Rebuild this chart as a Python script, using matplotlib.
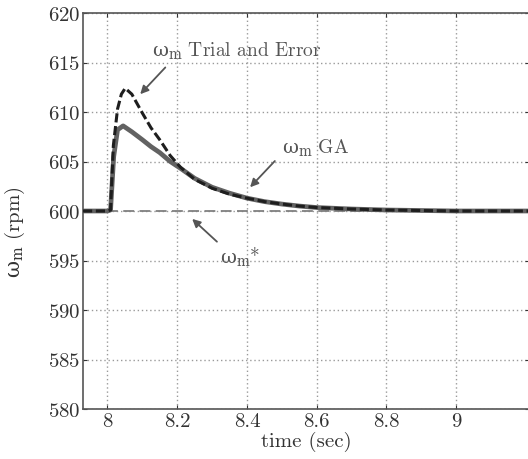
import matplotlib
matplotlib.use("Agg")
import matplotlib.pyplot as plt

plt.rcParams['font.family'] = ['cmr10', 'DejaVu Serif']
plt.rcParams['mathtext.fontset'] = 'dejavuserif'
plt.rcParams['axes.formatter.use_mathtext'] = True

# Trial and Error response
t_trial = [7.93, 8.0, 8.009, 8.017, 8.029, 8.04, 8.051, 8.07, 8.1, 8.125, 8.15, 8.18,
           8.21, 8.25, 8.3, 8.35, 8.4, 8.45, 8.5, 8.55, 8.6, 8.7, 8.8, 8.9, 9.0, 9.1, 9.21]
w_trial = [600.0, 600.0, 600.1, 606.6, 610.3, 611.8, 612.4, 611.8, 609.9, 608.4, 607.2, 605.6,
           604.4, 603.2, 602.3, 601.7, 601.3, 600.95, 600.7, 600.5, 600.35, 600.2, 600.1, 600.05, 600.0, 600.0, 600.0]

# GA response
t_ga = [7.93, 8.0, 8.009, 8.018, 8.029, 8.045, 8.07, 8.1, 8.125, 8.15, 8.18, 8.21,
        8.25, 8.3, 8.35, 8.4, 8.45, 8.5, 8.55, 8.6, 8.7, 8.8, 8.9, 9.0, 9.1, 9.21]
w_ga = [600.0, 600.0, 600.1, 605.5, 608.2, 608.6, 608.0, 607.2, 606.5, 605.9, 605.0, 604.3,
        603.3, 602.4, 601.8, 601.3, 600.95, 600.7, 600.5, 600.35, 600.2, 600.1, 600.05, 600.0, 600.0, 600.0]

# Reference speed
t_ref = [8.0, 9.21]
w_ref = [600.0, 600.0]

xticks = [8, 8.2, 8.4, 8.6, 8.8, 9]
xticklabels = ['8', '8.2', '8.4', '8.6', '8.8', '9']
yticks = [580, 585, 590, 595, 600, 605, 610, 615, 620]

fig = plt.figure(figsize=(5.28, 4.6), dpi=100)
ax = fig.add_axes([83/528, 50/460, 446/528, 396/460])

ax.plot(t_ga, w_ga, color='#626262', lw=3.4, solid_capstyle='butt', zorder=3)
ax.plot(t_trial, w_trial, color='#1e1e1e', lw=2.2, dashes=(3, 1.2), zorder=4)
ax.plot(t_ref, w_ref, color='#808080', lw=1.3, dashes=(6, 3), zorder=2)

ax.set_xlim(7.93, 9.2086)
ax.set_ylim(580, 620)
ax.set_xticks(xticks)
ax.set_xticklabels(xticklabels)
ax.set_yticks(yticks)
ax.tick_params(direction='in', length=3, labelsize=15, colors='#333333',
               top=True, right=True, pad=2)
ax.grid(True, color='#9a9a9a', linestyle=(0, (1, 2)), lw=1.0)
for s in ax.spines.values():
    s.set_color('#555555')
    s.set_linewidth(1.2)

wm = r'$\mathrm{\omega_m}$'
ax.set_xlabel('time (sec)', fontsize=15, color='#333333', labelpad=1)
ax.set_ylabel(wm + ' (rpm)', fontsize=15, color='#333333', labelpad=2)
ax.yaxis.set_label_coords(-0.125, 0.45)

tc = '#555555'
ap = dict(arrowstyle='-|>', color=tc, lw=1.3, mutation_scale=12, shrinkA=0, shrinkB=0)

ax.text(8.129, 615.76, wm + ' Trial and Error', fontsize=14, color=tc, va='baseline', ha='left')
ax.annotate('', xy=(8.094, 611.8), xytext=(8.166, 614.5), arrowprops=ap)

ax.text(8.50, 605.96, wm + ' GA', fontsize=14, color=tc, va='baseline', ha='left')
ax.annotate('', xy=(8.409, 602.4), xytext=(8.48, 605.05), arrowprops=ap)

ax.text(8.323, 594.85, wm + '*', fontsize=14, color=tc, va='baseline', ha='left')
ax.annotate('', xy=(8.243, 599.2), xytext=(8.314, 596.9), arrowprops=ap)

fig.savefig('out.png', dpi=100)
